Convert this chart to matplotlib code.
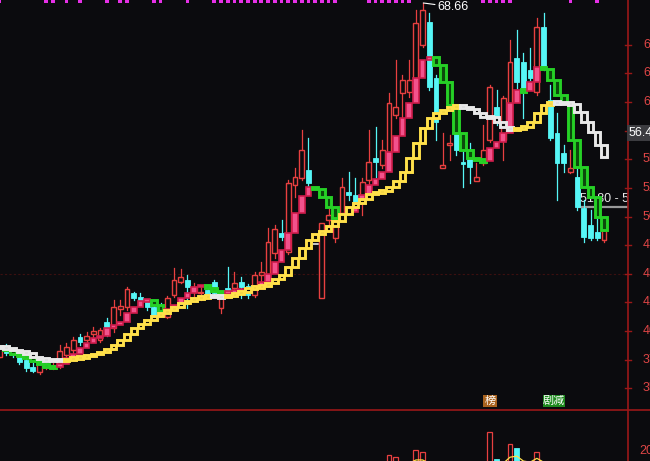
import matplotlib
matplotlib.use("Agg")
import matplotlib.pyplot as plt
from matplotlib.patches import Rectangle
from matplotlib.lines import Line2D

plt.rcParams["font.family"] = ["Liberation Sans", "Noto Sans CJK SC", "DejaVu Sans"]

# daily bars (index 0 = left edge)
opens = [37.72, 38.68, 38.16, 38.07, 37.46, 36.84, 36.41, 36.84, 36.84, 37.11,
         37.89, 38.33, 39.47, 39.20, 39.73, 39.20, 40.78, 40.25, 41.91, 42.09,
         43.31, 42.96, 42.53, 42.09, 42.26, 41.21, 43.14, 44.27, 44.45, 43.40,
         43.31, 43.57, 44.27, 42.00, 43.75, 43.75, 44.27, 43.92, 43.14, 44.89,
         44.19, 46.81, 48.56, 46.90, 52.75, 53.36, 54.06, 47.59, 42.87, 49.69,
         48.12, 50.30, 52.14, 51.88, 51.88, 53.19, 55.11, 54.50, 55.64, 58.87,
         60.79, 60.88, 62.10, 64.99, 67.00, 62.10, 54.24, 56.25, 57.30, 54.76,
         55.11, 53.10, 54.67, 56.68, 59.57, 56.68, 57.73, 63.85, 63.50, 62.80,
         60.88, 66.56, 60.18, 57.30, 55.55, 53.89, 53.45, 50.74, 49.26, 48.64,
         47.94]
closes = [38.59, 38.07, 37.89, 37.28, 36.76, 36.50, 37.11, 37.02, 36.93, 38.24,
          38.59, 39.20, 39.03, 39.55, 39.99, 40.08, 39.73, 42.09, 42.18, 43.66,
          42.87, 42.53, 42.09, 41.21, 41.65, 42.87, 44.45, 44.71, 43.84, 43.84,
          43.40, 43.14, 43.31, 42.96, 43.57, 44.19, 43.84, 43.14, 44.89, 45.15,
          47.77, 48.90, 48.21, 52.93, 53.45, 55.81, 52.93, 47.59, 49.43, 50.13,
          49.69, 52.58, 51.88, 50.83, 53.01, 54.76, 54.76, 55.81, 59.92, 59.57,
          61.93, 61.93, 66.91, 68.05, 61.32, 58.26, 54.50, 56.42, 55.81, 54.59,
          54.32, 53.45, 55.81, 61.32, 58.26, 60.35, 63.50, 61.75, 61.05, 62.10,
          66.56, 63.06, 56.86, 54.67, 54.67, 54.24, 50.83, 48.21, 48.12, 48.12,
          48.99]
highs = [38.77, 38.85, 38.33, 38.16, 37.63, 37.19, 37.28, 37.19, 37.19, 38.77,
         38.94, 39.47, 39.73, 39.90, 40.34, 40.25, 41.13, 42.70, 42.70, 43.84,
         43.40, 43.31, 42.70, 42.70, 42.44, 43.05, 45.50, 45.41, 44.89, 44.19,
         43.84, 43.75, 44.45, 43.14, 45.58, 45.15, 44.71, 44.10, 45.15, 46.02,
         48.99, 49.26, 49.69, 53.19, 54.24, 57.56, 56.86, 47.59, 49.43, 50.74,
         49.87, 53.36, 53.89, 53.36, 53.36, 57.56, 57.82, 56.68, 60.79, 63.68,
         62.37, 63.68, 68.05, 68.66, 67.78, 62.37, 57.30, 57.12, 57.56, 56.07,
         56.42, 54.67, 57.99, 61.49, 61.05, 60.53, 65.42, 66.30, 64.29, 64.72,
         67.35, 67.78, 61.49, 59.04, 56.25, 55.81, 54.24, 51.44, 50.57, 50.13,
         49.26]
lows = [37.63, 37.89, 37.72, 37.11, 36.50, 36.41, 36.23, 36.67, 36.67, 36.76,
        37.72, 37.89, 38.77, 38.94, 39.38, 39.03, 39.55, 39.90, 41.39, 41.83,
        42.70, 42.26, 41.83, 40.95, 41.39, 41.13, 42.96, 44.19, 42.00, 42.70,
        42.70, 42.96, 42.96, 41.56, 43.31, 43.40, 42.87, 42.87, 42.96, 44.27,
        44.01, 46.37, 47.94, 46.72, 51.70, 53.19, 52.58, 47.59, 42.87, 48.82,
        47.77, 50.13, 51.44, 50.57, 50.13, 52.75, 53.45, 54.24, 55.37, 58.61,
        58.61, 60.44, 61.93, 64.81, 61.05, 56.68, 54.24, 54.94, 55.37, 52.58,
        52.93, 53.10, 54.50, 56.51, 57.99, 54.94, 57.56, 61.23, 58.61, 61.93,
        60.62, 62.80, 56.68, 51.44, 53.89, 53.80, 50.57, 47.77, 47.94, 47.94,
        47.77]

# short average (filled steps) and long average (hollow steps)
ma_fast = [38.59, 38.33, 37.98, 37.81, 37.72, 37.37, 37.11, 36.84, 36.83, 37.11,
           37.63, 37.98, 38.50, 38.94, 39.38, 39.55, 40.25, 40.52, 40.78, 41.56,
           42.09, 42.61, 42.70, 42.26, 41.74, 41.91, 42.26, 42.87, 43.31, 43.84,
           44.01, 43.75, 43.50, 43.33, 43.40, 43.50, 43.60, 43.70, 43.92, 44.27,
           44.97, 46.02, 47.07, 48.56, 50.30, 51.79, 52.58, 52.40, 51.70, 50.83,
           49.87, 50.22, 50.39, 51.18, 51.88, 52.75, 53.28, 53.89, 55.64, 57.03,
           58.61, 59.92, 62.10, 63.68, 63.94, 63.24, 61.75, 59.74, 57.30, 55.81,
           55.11, 54.94, 54.85, 55.98, 56.51, 57.30, 59.92, 61.05, 60.97, 61.75,
           63.06, 62.89, 61.93, 60.62, 59.92, 56.68, 54.32, 52.58, 51.70, 49.95,
           48.82]
ma_slow = [38.59, 38.50, 38.33, 38.16, 38.07, 37.72, 37.54, 37.46, 37.45, 37.44,
           37.54, 37.63, 37.72, 37.81, 37.98, 38.16, 38.42, 38.77, 39.20, 39.73,
           40.25, 40.60, 40.95, 41.30, 41.56, 41.83, 42.09, 42.44, 42.61, 42.87,
           42.96, 43.06, 43.03, 43.00, 43.08, 43.31, 43.40, 43.75, 43.84, 43.92,
           44.19, 44.54, 44.89, 45.58, 46.37, 47.24, 47.94, 48.47, 48.73, 49.17,
           49.60, 50.22, 50.83, 51.18, 51.53, 51.96, 52.14, 52.23, 52.58, 53.10,
           53.89, 55.11, 56.42, 57.73, 58.61, 59.04, 59.31, 59.57, 59.66, 59.57,
           59.39, 59.04, 58.69, 58.67, 58.26, 57.82, 57.56, 57.73, 57.82, 58.26,
           59.04, 59.74, 60.01, 59.92, 59.90, 59.83, 59.13, 58.26, 57.38, 56.25,
           55.20]

# bars with a magenta signal mark along the top edge
signal_bars = [0, 7, 8, 10, 12, 16, 18, 19, 23, 24, 28,
               32, 33, 34, 35, 36, 37, 38, 39, 40, 41, 42, 43, 44, 45, 46, 47, 48, 49, 50,
               55, 56, 57, 58, 59, 60, 61, 72, 73, 74, 75, 76, 85, 89]

# only the volume bars tall enough to reach into the visible strip
vol_bars = [58, 59, 62, 63, 73, 74, 76, 77, 80]
vol_values = [19.3, 18.9, 20.2, 19.8, 23.5, 18.6, 21.3, 20.6, 19.8]
vol_ma_bars_a = [61, 62, 63, 64]
vol_ma_a = [17.8, 18.4, 18.4, 17.8]
vol_ma_bars_b = [75, 76, 77, 78, 79, 80, 81, 82]
vol_ma_b = [17.8, 18.9, 19.1, 18.2, 18.0, 18.7, 18.0, 17.7]

price_ticks = [65.0, 62.5, 60.0, 57.5, 55.0, 52.5, 50.0, 47.5, 45.0, 42.5, 40.0, 37.5, 35.0]
grid_level = 45.0
high_mark = 68.66
last_ma_label = "56.41"
range_label = "51.80 - 56.41"

BG = "#0b0b0e"
RED = "#e84040"
CYAN = "#56f6f6"
AXIS_RED = "#9a1818"
LABEL_RED = "#e04646"
YELLOW = "#ffe04a"
WHITE = "#e8e8e8"
MAGENTA = "#e630e6"

W, H = 650, 461
X_LEFT, X_RIGHT = 0.107, 93.56


def box(x0, y0, x1, y1):
    """pixel box (top-left origin) -> figure fraction rect"""
    return [x0 / W, 1 - y1 / H, (x1 - x0) / W, (y1 - y0) / H]


fig = plt.figure(figsize=(W / 100, H / 100), dpi=100)
fig.patch.set_facecolor(BG)

ax = fig.add_axes(box(0, 0, 628, 410))
axv = fig.add_axes(box(0, 410, 628, 561))
for a in (ax, axv):
    a.set_facecolor(BG)
    a.set_xlim(X_LEFT, X_RIGHT)
    a.set_xticks([])
    a.set_yticks([])
    for side in ("left", "top", "bottom"):
        a.spines[side].set_visible(False)
    a.spines["right"].set_color(AXIS_RED)
    a.spines["right"].set_linewidth(1.2)
axv.set_facecolor("none")
ax.set_ylim(33.09, 68.92)
axv.set_ylim(0, 27.5)

# grid line and the range label sitting behind the candles
ax.axhline(grid_level, color="#3c1010", lw=0.8, ls=(0, (2, 2)), zorder=0)
ax.text(86.4, 51.53, range_label, color=WHITE, fontsize=9, va="center", ha="left",
        zorder=1, clip_on=True)
ax.plot([86.3, X_RIGHT], [50.83, 50.83], color="#9a9a9a", lw=1.6, zorder=1)

# candles
w = 0.72
for i in range(len(opens)):
    o, c, h, l = opens[i], closes[i], highs[i], lows[i]
    if c > o:
        ax.add_patch(Rectangle((i - w / 2, o), w, c - o, fill=False,
                               edgecolor=RED, lw=1.0, zorder=2))
        ax.plot([i, i], [c, h], color=RED, lw=0.9, zorder=2)
        ax.plot([i, i], [l, o], color=RED, lw=0.9, zorder=2)
    elif c < o:
        ax.add_patch(Rectangle((i - w / 2, c), w, o - c, facecolor=CYAN,
                               edgecolor=CYAN, lw=0.6, zorder=2))
        ax.plot([i, i], [l, h], color=CYAN, lw=0.9, zorder=2)
    else:
        ax.plot([i - w / 2, i + w / 2], [o, o], color=WHITE, lw=1.2, zorder=2)
        ax.plot([i, i], [l, h], color=WHITE, lw=0.9, zorder=2)


def draw_steps(values, up, down, zorder):
    bw = 0.84
    min_h = 0.2
    for i in range(len(values)):
        prev = values[i - 1] if i else values[i]
        cur = values[i]
        style = up if cur > prev else down
        lo, hi = min(prev, cur), max(prev, cur)
        if hi - lo < min_h:
            mid = (hi + lo) / 2
            lo, hi = mid - min_h / 2, mid + min_h / 2
        ax.add_patch(Rectangle((i - bw / 2, lo), bw, hi - lo, zorder=zorder,
                               joinstyle="miter", **style))


draw_steps(ma_fast,
           dict(facecolor="#f2528c", edgecolor="#d01c4c", lw=1.2),
           dict(facecolor="#0c4a0c", edgecolor="#26d026", lw=2.1), 3)
draw_steps(ma_slow,
           dict(facecolor="#100c04", edgecolor=YELLOW, lw=2.1),
           dict(facecolor="#121212", edgecolor=WHITE, lw=2.1), 4)

# magenta signal marks along the top
for i in signal_bars:
    ax.add_patch(Rectangle((i - 0.28, 68.70), 0.56, 0.3, facecolor=MAGENTA,
                           edgecolor="none", zorder=5))

# high annotation
ax.annotate(f"{high_mark:.2f}", xy=(63.1, high_mark), xytext=(65.25, 68.31),
            color="white", fontsize=9, va="center", ha="left", zorder=6,
            arrowprops=dict(arrowstyle="-", color="white", lw=0.8,
                            shrinkA=0, shrinkB=0))

# right hand price labels (cut by the window edge like the original)
ytf = ax.get_yaxis_transform()
for p in price_ticks:
    ax.text(1 + 15 / 628, p, f"{p:.2f}", transform=ytf, color=LABEL_RED,
            fontsize=9, va="center", ha="left", clip_on=False)
    ax.add_line(Line2D([1 - 3 / 628, 1 + 3 / 628], [p, p], transform=ytf,
                       color=AXIS_RED, lw=1, clip_on=False))

fig.text(629 / W, 1 - 133 / H, last_ma_label, color="white", fontsize=9,
         va="center", ha="left", zorder=10,
         bbox=dict(facecolor="#3c3c40", edgecolor="none", pad=1.6))

# event tags at the bottom of the price panel
fig.patches.append(Rectangle((483 / W, 1 - 407 / H), 14 / W, 12 / H,
                             transform=fig.transFigure, facecolor="#a8621e",
                             edgecolor="none", zorder=5))
fig.text(490 / W, 1 - 401 / H, "榜", color="white", fontsize=8,
         ha="center", va="center", zorder=6)
fig.patches.append(Rectangle((543 / W, 1 - 407 / H), 22 / W, 12 / H,
                             transform=fig.transFigure, facecolor="#1e8a1e",
                             edgecolor="none", zorder=5))
fig.text(554 / W, 1 - 401 / H, "剧减", color="white", fontsize=8,
         ha="center", va="center", zorder=6)

# panel divider
fig.add_artist(Line2D([0, 1], [1 - 410 / H, 1 - 410 / H], color=AXIS_RED, lw=1.2))

# volume panel (only its top is inside the window)
for i, v in zip(vol_bars, vol_values):
    if closes[i] >= opens[i]:
        axv.add_patch(Rectangle((i - w / 2, 0), w, v, fill=False, edgecolor=RED, lw=0.9))
    else:
        axv.add_patch(Rectangle((i - w / 2, 0), w, v, facecolor=CYAN, edgecolor=CYAN, lw=0.6))
axv.plot(vol_ma_bars_a, vol_ma_a, color=YELLOW, lw=0.9)
axv.plot(vol_ma_bars_b, vol_ma_b, color=YELLOW, lw=0.9)
axv.text(1 + 11 / 628, 20, "20", transform=axv.get_yaxis_transform(),
         color=LABEL_RED, fontsize=9, va="center", ha="left", clip_on=False)

fig.savefig("out.png", dpi=100, facecolor=BG)
